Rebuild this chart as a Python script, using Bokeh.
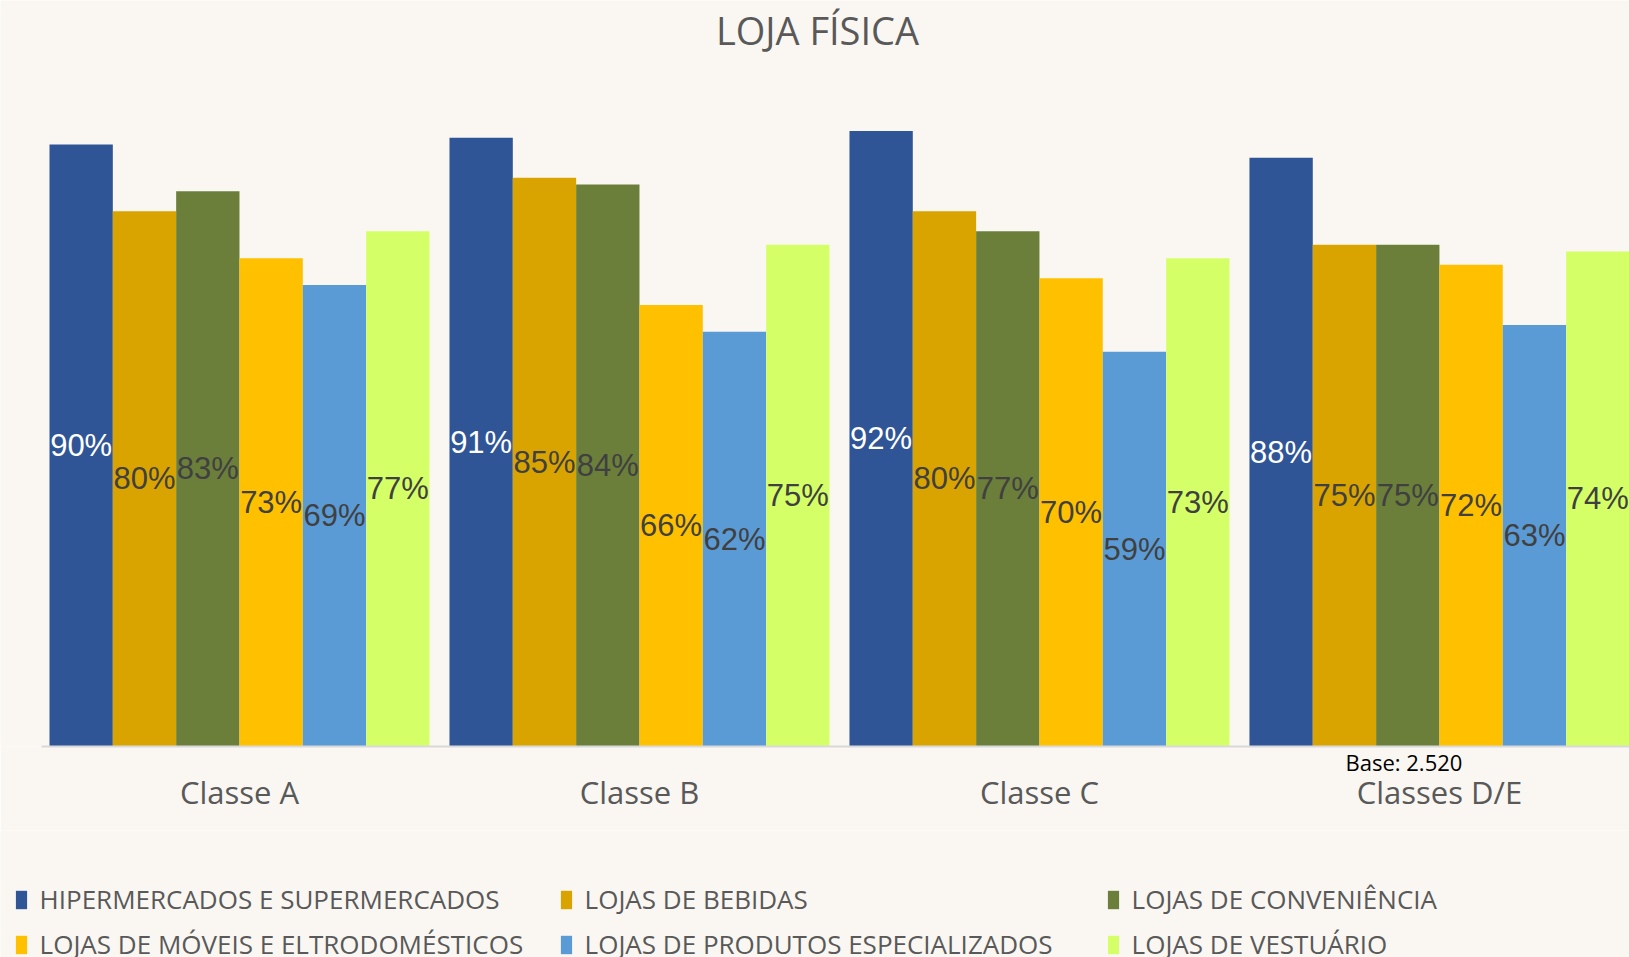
from bokeh.plotting import figure
from bokeh.layouts import column
from bokeh.models import ColumnDataSource, FixedTicker, Range1d, Legend, LegendItem, LinearAxis, Label
from bokeh.core.properties import value
from bokeh.embed import file_html
from bokeh.resources import INLINE

title_text = "LOJA FÍSICA"
base_text = "Base: 2.520"
categories = ["Classe A", "Classe B", "Classe C", "Classes D/E"]
series_names = [
    "HIPERMERCADOS E SUPERMERCADOS",
    "LOJAS DE BEBIDAS",
    "LOJAS DE CONVENIÊNCIA",
    "LOJAS DE MÓVEIS E ELTRODOMÉSTICOS",
    "LOJAS DE PRODUTOS ESPECIALIZADOS",
    "LOJAS DE VESTUÁRIO",
]
hiper = [0.90, 0.91, 0.92, 0.88]
bebidas = [0.80, 0.85, 0.80, 0.75]
conveniencia = [0.83, 0.84, 0.77, 0.75]
moveis = [0.73, 0.66, 0.70, 0.72]
produtos = [0.69, 0.62, 0.59, 0.63]
vestuario = [0.77, 0.75, 0.73, 0.74]
all_values = [hiper, bebidas, conveniencia, moveis, produtos, vestuario]

colors = ["#2F5597", "#DAA400", "#6B7F3B", "#FFC000", "#5B9BD5", "#D5FF66"]
label_colors = ["#FFFFFF", "#404040", "#404040", "#404040", "#404040", "#404040"]

BG = "#FAF7F2"
TXT = "#595959"
SANS = "Open Sans"

n_series = len(series_names)
gap = 0.316
pitch = n_series + gap
unit_px = 63.33
axis_start = -0.1263
x_start, x_end = axis_start - 41 / unit_px, 24.949
y_end = 746 / 669

W = 1629
H1, H2 = 830, 127

p = figure(width=W, height=H1, output_backend="svg", toolbar_location=None,
           x_range=Range1d(x_start, x_end), y_range=Range1d(0, y_end),
           min_border_left=0, min_border_right=0, min_border_top=0,
           min_border_bottom=H1 - 746)
p.background_fill_color = BG
p.border_fill_color = BG
p.outline_line_color = None
p.grid.visible = False
p.yaxis.visible = False

sources = []
for s, (name, vals) in enumerate(zip(series_names, all_values)):
    xs = [g * pitch + s + 0.5 for g in range(len(categories))]
    src = ColumnDataSource(dict(x=xs, top=vals, mid=[v / 2 for v in vals],
                                lab=[f"{round(v * 100)}%" for v in vals]))
    sources.append(src)
    p.vbar(x="x", top="top", bottom=0, width=1.0, source=src,
           fill_color=colors[s], line_color=None)
    p.text(x="x", y="mid", text="lab", source=src, text_align="center",
           text_baseline="middle", text_font=value("Liberation Sans"),
           text_font_size="31px", text_color=label_colors[s])

centers = [g * pitch + n_series / 2 for g in range(len(categories))]
mid_x = (centers[0] + centers[-1]) / 2

title = Label(x=mid_x, y=y_end, x_offset=-22, y_offset=-29, text=title_text,
              text_align="center", text_baseline="middle", text_font=SANS,
              text_font_size="38px", text_color=TXT)
p.add_layout(title)

# first axis (adjacent to the bars): baseline + base note
ax1 = p.xaxis[0]
base_x = centers[-1] - 35.5 / unit_px
ax1.bounds = (axis_start, x_end)
ax1.ticker = FixedTicker(ticks=[base_x])
ax1.major_label_overrides = {base_x: base_text}
ax1.major_tick_in = 0
ax1.major_tick_out = 0
ax1.minor_tick_in = 0
ax1.minor_tick_out = 0
ax1.axis_line_color = "#D9D9D9"
ax1.axis_line_width = 2
ax1.major_label_standoff = 0
ax1.major_label_text_font = SANS
ax1.major_label_text_font_size = "22px"
ax1.major_label_text_color = "#000000"

# second axis: category names
ax2 = LinearAxis(ticker=FixedTicker(ticks=centers),
                 major_label_overrides={c: lab for c, lab in zip(centers, categories)})
ax2.major_tick_in = 0
ax2.major_tick_out = 0
ax2.minor_tick_in = 0
ax2.minor_tick_out = 0
ax2.axis_line_color = None
ax2.major_label_standoff = -9
ax2.major_label_text_font = SANS
ax2.major_label_text_font_size = "31px"
ax2.major_label_text_color = TXT
p.add_layout(ax2, "below")

# legend strip
q = figure(width=W, height=H2, output_backend="svg", toolbar_location=None,
           x_range=Range1d(0, 1), y_range=Range1d(0, 1), y_axis_location=None,
           min_border_left=0, min_border_right=0, min_border_top=0, min_border_bottom=0)
q.background_fill_color = BG
q.border_fill_color = BG
q.outline_line_color = None
q.xaxis.visible = False
q.grid.visible = False

items = []
for s, name in enumerate(series_names):
    r = q.vbar(x="x", top="top", bottom=0, width=1.0, source=sources[s],
               fill_color=colors[s], line_color=None, visible=False)
    items.append(LegendItem(label=name, renderers=[r]))

col_x = [13.6, 558.6, 1105.6]
for c in range(3):
    leg = Legend(items=[items[c], items[c + 3]], location=(col_x[c], -5), orientation="vertical",
                 glyph_width=14, glyph_height=23, label_standoff=12,
                 label_height=18, spacing=9, padding=0, margin=0,
                 border_line_alpha=0, background_fill_alpha=0, inactive_fill_alpha=0,
                 label_text_font=SANS, label_text_font_size="26px", label_text_color=TXT)
    q.add_layout(leg, "center")

layout = column(p, q, spacing=0)
open("out.html", "w").write(file_html(layout, INLINE))
